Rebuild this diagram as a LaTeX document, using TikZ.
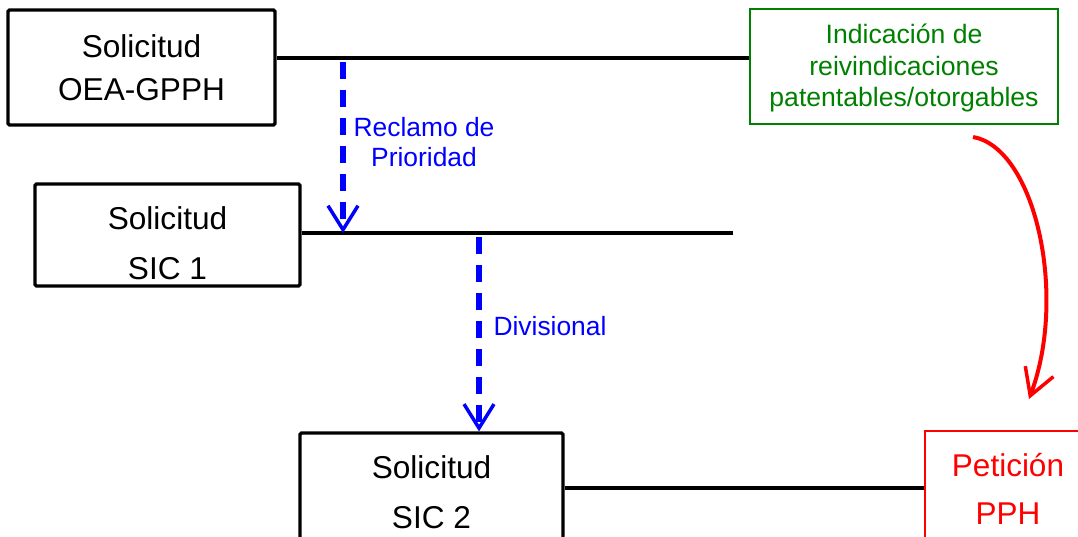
\documentclass[tikz,border=0pt]{standalone}
\usepackage{fontspec}
\setmainfont{Liberation Sans}
\usetikzlibrary{arrows.meta}
\definecolor{dgreen}{RGB}{0,128,0}
\definecolor{pblue}{RGB}{0,0,255}
\definecolor{pred}{RGB}{255,0,0}
\begin{document}
\begin{tikzpicture}[x=1pt,y=-1pt,
  box/.style={draw=black, line width=3.2pt, rounded corners=1.5pt, inner sep=0pt, align=center},
  bigfont/.style={font=\fontsize{31.6}{43}\selectfont},
  bigfontw/.style={font=\fontsize{31.6}{50}\selectfont},
  txt/.style={inner sep=0pt, align=center},
  gbox/.style={draw=dgreen, line width=2pt, inner sep=0pt},
  gtxt/.style={inner sep=0pt, align=center, text=dgreen, font=\fontsize{26.6}{31.8}\selectfont},
  rbox/.style={draw=pred, line width=1.5pt, inner sep=0pt, align=center, text=pred, font=\fontsize{31.5}{48}\selectfont},
  tline/.style={draw=black, line width=3.5pt},
  bluearrow/.style={draw=pblue, line width=5.5pt, dash pattern=on 17pt off 11pt, -{Straight Barb[length=24pt, width=30pt, line width=3.5pt]}},
  bluelbl/.style={inner sep=0pt, align=center, text=pblue, font=\fontsize{26.4}{30}\selectfont},
  redarrow/.style={draw=pred, line width=4pt, -{Straight Barb[length=26pt, width=30pt, line width=3.5pt]}}
]
\useasboundingbox (0,0) rectangle (1078,537);
\clip (0,0) rectangle (1078,537);

% boxes
\node[box, bigfont, minimum width=267pt, minimum height=115pt] (b1) at (141.5,67.5) {Solicitud\\OEA-GPPH};
\node[box, minimum width=265pt, minimum height=102pt] (b2) at (167.5,235) {};
\node[txt, bigfontw] (b2t) at (167.5,243) {Solicitud\\SIC 1};
\node[box, bigfontw, minimum width=263pt, minimum height=119pt] (b3) at (431.5,492.5) {Solicitud\\SIC 2};
\node[gbox, minimum width=308pt, minimum height=115pt] (g) at (904,66.5) {};
\node[gtxt] (gt) at (904,68) {Indicación de\\reivindicaciones\\patentables/otorgables};
\node[rbox, minimum width=166pt, minimum height=116pt] (r) at (1008,489) {Petición\\PPH};

% timeline coordinates
\coordinate (l1) at (750,58);
\coordinate (e2) at (733,233);
\coordinate (l3) at (563,488);
\coordinate (a1s) at (343,62);
\coordinate (a2s) at (479,237);
\coordinate (rs) at (973,137);
\coordinate (re) at (1029,399);

% timelines
\draw[tline] (b1.east |- l1) -- (g.west |- l1);
\draw[tline] (b2.east |- e2) -- (e2);
\draw[tline] (b3.east |- l3) -- (r.west |- l3);

% blue dashed arrows
\draw[bluearrow] (a1s) -- (a1s |- e2);
\node[bluelbl] (lab1) at (424,142) {Reclamo de\\Prioridad};
\draw[bluearrow] (a2s) -- (a2s |- b3.north);
\node[bluelbl] (lab2) at (550,326) {Divisional};

% red curved arrow
\draw[redarrow] (rs) .. controls (1035,148) and (1068,295) .. (re);
\end{tikzpicture}
\end{document}
